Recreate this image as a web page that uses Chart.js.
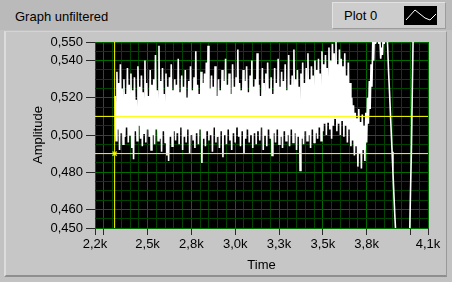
<!DOCTYPE html>
<html>
<head>
<meta charset="utf-8">
<script src="https://cdn.jsdelivr.net/npm/chart.js@4.4.0/dist/chart.umd.min.js"></script>
<style>
  html, body { margin: 0; padding: 0; }
  body {
    width: 452px; height: 282px; position: relative; overflow: hidden;
    background: #c2c2c2; color: #000;
    font-family: 'Liberation Sans', Arial, sans-serif; font-size: 13px;
  }
  #top { position: absolute; left: 0; top: 0; width: 452px; height: 30px; background: #bababa; }
  #frame {
    position: absolute; left: 4px; top: 31px; width: 440px; height: 243px;
    background: #c6c6c6;
    border-left: 2px solid #dcdcdc; border-top: 1px solid #d4d4d4;
    border-right: 1px solid #9a9a9a; border-bottom: 2px solid #8e8e8e;
  }
  #title { position: absolute; left: 15px; top: 9px; }
  #legend {
    position: absolute; left: 332px; top: 2px; width: 112px; height: 25px;
    background: #cdcdcd;
    border-top: 1px solid #e2e2e2; border-left: 1px solid #e2e2e2;
    border-right: 1px solid #9c9c9c; border-bottom: 1px solid #9c9c9c;
  }
  #legend span { position: absolute; left: 11px; top: 5px; }
  #legend svg { position: absolute; left: 71px; top: 3px; }
  #chart { position: absolute; left: 0; top: 0; }
</style>
</head>
<body>
<div id="top"></div>
<div id="frame"></div>
<div id="title">Graph unfiltered</div>
<div id="legend">
  <span>Plot 0</span>
  <svg width="33" height="19" viewBox="0 0 33 19">
    <rect width="33" height="19" fill="#000"/>
    <polyline points="2,14 11,4 21,12 26,14 32,8" fill="none" stroke="#fff" stroke-width="1"/>
  </svg>
</div>
<canvas id="chart" width="452" height="282"></canvas>
<script>
// waveform: first sample time and sample spacing
const t0 = 2315;
const dt = 5;
const amplitude = [
  0.521, 0.497, 0.534, 0.503, 0.528, 0.492, 0.538, 0.501, 0.525, 0.495,
  0.530, 0.499, 0.522, 0.504, 0.536, 0.496, 0.527, 0.500, 0.533, 0.493,
  0.524, 0.487, 0.531, 0.502, 0.519, 0.497, 0.537, 0.505, 0.526, 0.498,
  0.532, 0.494, 0.523, 0.501, 0.540, 0.496, 0.528, 0.503, 0.521, 0.499,
  0.535, 0.492, 0.527, 0.500, 0.530, 0.495, 0.543, 0.503, 0.524, 0.497,
  0.548, 0.498, 0.529, 0.491, 0.536, 0.502, 0.522, 0.496, 0.533, 0.489,
  0.526, 0.486, 0.531, 0.499, 0.538, 0.494, 0.524, 0.502, 0.530, 0.497,
  0.527, 0.501, 0.541, 0.495, 0.523, 0.504, 0.532, 0.492, 0.526, 0.499,
  0.535, 0.496, 0.520, 0.503, 0.529, 0.490, 0.537, 0.500, 0.524, 0.497,
  0.531, 0.493, 0.545, 0.501, 0.527, 0.495, 0.522, 0.503, 0.534, 0.485,
  0.528, 0.498, 0.533, 0.494, 0.539, 0.502, 0.548, 0.497, 0.525, 0.500,
  0.532, 0.491, 0.526, 0.504, 0.537, 0.496, 0.521, 0.499, 0.530, 0.493,
  0.524, 0.502, 0.535, 0.488, 0.529, 0.500, 0.541, 0.495, 0.527, 0.503,
  0.533, 0.497, 0.522, 0.492, 0.538, 0.501, 0.526, 0.496, 0.531, 0.504,
  0.546, 0.499, 0.528, 0.494, 0.524, 0.502, 0.535, 0.490, 0.529, 0.498,
  0.537, 0.503, 0.523, 0.496, 0.532, 0.500, 0.540, 0.493, 0.526, 0.501,
  0.530, 0.495, 0.544, 0.502, 0.527, 0.497, 0.521, 0.504, 0.536, 0.492,
  0.528, 0.500, 0.533, 0.494, 0.539, 0.503, 0.525, 0.498, 0.531, 0.489,
  0.522, 0.501, 0.536, 0.496, 0.528, 0.503, 0.541, 0.495, 0.526, 0.499,
  0.534, 0.493, 0.529, 0.502, 0.538, 0.497, 0.524, 0.500, 0.543, 0.494,
  0.527, 0.503, 0.532, 0.496, 0.546, 0.501, 0.530, 0.492, 0.535, 0.499,
  0.526, 0.481, 0.533, 0.498, 0.539, 0.495, 0.528, 0.502, 0.536, 0.497,
  0.544, 0.500, 0.530, 0.493, 0.537, 0.503, 0.532, 0.496, 0.540, 0.501,
  0.535, 0.498, 0.541, 0.504, 0.533, 0.497, 0.545, 0.502, 0.538, 0.506,
  0.543, 0.500, 0.536, 0.507, 0.547, 0.503, 0.540, 0.498, 0.549, 0.505,
  0.544, 0.509, 0.551, 0.502, 0.538, 0.506, 0.546, 0.500, 0.541, 0.508,
  0.537, 0.499, 0.544, 0.505, 0.532, 0.496, 0.539, 0.503, 0.528, 0.494,
  0.520, 0.497, 0.516, 0.489, 0.512, 0.494, 0.509, 0.483, 0.514, 0.490,
  0.507, 0.482, 0.511, 0.492, 0.505, 0.486, 0.512, 0.496, 0.520, 0.506,
  0.529, 0.514, 0.538, 0.526, 0.551, 0.540, 0.558, 0.549, 0.562, 0.553,
  0.556, 0.549, 0.553, 0.541, 0.547, 0.543, 0.555, 0.549, 0.561, 0.556,
  0.558, 0.547, 0.534, 0.524, 0.513, 0.502, 0.491, 0.480, 0.469, 0.458,
  0.449, 0.440, 0.432, 0.425, 0.418, 0.412, 0.407, 0.404, 0.402, 0.401,
  0.403, 0.406, 0.411, 0.418, 0.427, 0.436, 0.444, 0.469, 0.490, 0.521,
  0.552, 0.576, 0.590
];

// cursors
const cursorTime = 2312;
const cursorLevels = [0.51, 0.49];

// axes
const xMin = 2200, xMax = 4100, yMin = 0.45, yMax = 0.55;
const xTickValues = [2200, 2500, 2750, 3000, 3250, 3500, 3750, 4100];
const xTickLabels = ['2,2k', '2,5k', '2,8k', '3,0k', '3,3k', '3,5k', '3,8k', '4,1k'];
const xMarkValues = [2200, 2250, 2500, 2750, 3000, 3250, 3500, 3750, 4000, 4100];
const yTickValues = [0.55, 0.54, 0.52, 0.50, 0.48, 0.46, 0.45];
const yTickLabels = ['0,550', '0,540', '0,520', '0,500', '0,480', '0,460', '0,450'];

const near = (list, v) => list.findIndex(t => Math.abs(t - v) < 1e-6);

Chart.defaults.font.family = "'Liberation Sans', Arial, sans-serif";
Chart.defaults.font.size = 13;
Chart.defaults.color = '#000';

const plotBackground = {
  id: 'plotBackground',
  beforeDraw(chart) {
    const { ctx, chartArea: a } = chart;
    ctx.save();
    ctx.fillStyle = '#000';
    ctx.fillRect(a.left, a.top, a.width, a.height);
    ctx.restore();
  }
};

const trace = amplitude.map((v, i) => ({ x: t0 + i * dt, y: v }));

const ctx = document.getElementById('chart').getContext('2d');

new Chart(ctx, {
  type: 'scatter',
  data: {
    datasets: [
      {
        data: [{ x: cursorTime, y: yMin }, { x: cursorTime, y: yMax }],
        showLine: true, borderColor: '#ffff00', borderWidth: 1, pointRadius: 0, order: 0
      },
      ...cursorLevels.map(l => ({
        data: [{ x: xMin, y: l }, { x: xMax, y: l }],
        showLine: true, borderColor: '#ffff00', borderWidth: 1, pointRadius: 0, order: 0
      })),
      {
        data: [{ x: cursorTime, y: cursorLevels[1] }],
        pointStyle: 'crossRot', pointRadius: 3, borderColor: '#d8d800', borderWidth: 1.5, order: 0
      },
      {
        label: 'Plot 0',
        data: trace,
        showLine: true,
        borderColor: '#ffffff',
        borderWidth: 1.6,
        borderJoinStyle: 'miter',
        pointRadius: 0,
        clip: 0,
        order: 1
      }
    ]
  },
  options: {
    responsive: false,
    animation: false,
    events: [],
    layout: { padding: { left: 31, top: 42, right: 24, bottom: 9 } },
    plugins: { legend: { display: false }, tooltip: { enabled: false } },
    scales: {
      x: {
        type: 'linear',
        min: xMin, max: xMax,
        afterBuildTicks: s => {
          s.ticks = [];
          for (let v = xMin; v <= xMax; v += 50) s.ticks.push({ value: v });
        },
        afterFit: s => { s.height = 45; },
        ticks: {
          autoSkip: false, maxRotation: 0, padding: 2,
          callback: v => { const i = near(xTickValues, v); return i >= 0 ? xTickLabels[i] : ''; }
        },
        grid: {
          color: c => near(xMarkValues, c.tick.value) >= 0 ? '#006c00' : '#004400',
          tickColor: c => near(xMarkValues, c.tick.value) >= 0 ? '#2a2a2a' : 'rgba(0,0,0,0)',
          tickLength: 7
        },
        border: { display: false },
        title: { display: true, text: 'Time', padding: 0 }
      },
      y: {
        type: 'linear',
        min: yMin, max: yMax,
        afterBuildTicks: s => {
          s.ticks = [];
          for (let k = 0; k <= 20; k++) s.ticks.push({ value: +(yMin + k * 0.005).toFixed(3) });
        },
        afterFit: s => { s.width = 64; },
        ticks: {
          autoSkip: false, padding: 3,
          callback: v => { const i = near(yTickValues, v); return i >= 0 ? yTickLabels[i] : ''; }
        },
        grid: {
          color: c => near(yTickValues, c.tick.value) >= 0 ? '#006c00' : '#004400',
          tickColor: c => near(yTickValues, c.tick.value) >= 0 ? '#2a2a2a' : 'rgba(0,0,0,0)',
          tickLength: 9
        },
        border: { display: false },
        title: { display: true, text: 'Amplitude', padding: 0 }
      }
    }
  },
  plugins: [plotBackground]
});
</script>
</body>
</html>
